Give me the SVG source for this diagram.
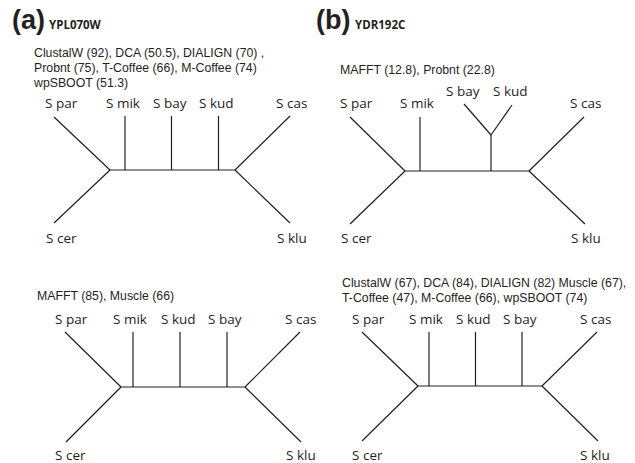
<svg xmlns="http://www.w3.org/2000/svg" width="635" height="463" viewBox="0 0 635 463">
<style>
text{font-family:"Open Sans","Noto Sans",sans-serif;fill:#231f20}
.lbl{font-size:13.5px}
.note{font-size:12.3px;font-family:"Liberation Sans",Arial,sans-serif}
.big{font-size:27px;font-weight:bold;font-family:"Liberation Sans",Arial,sans-serif}
.gene{font-size:11.5px;font-weight:bold}
.edges line{stroke:#231f20;stroke-width:1.2;fill:none}
</style>
<rect width="635" height="463" fill="#fff"/>
<g id="title-a"><text class="big" x="12" y="29">(a)</text><text class="gene" x="49" y="29">YPL070W</text></g>
<g id="title-b"><text class="big" x="316" y="29">(b)</text><text class="gene" x="355" y="29">YDR192C</text></g>

<g id="note-a1">
<text class="note" x="34" y="57">ClustalW (92), DCA (50.5), DIALIGN (70) ,</text>
<text class="note" x="34" y="72">Probnt (75), T-Coffee (66), M-Coffee (74)</text>
<text class="note" x="34" y="86.5">wpSBOOT (51.3)</text>
</g>
<g id="note-b1"><text class="note" x="340" y="74">MAFFT (12.8), Probnt (22.8)</text></g>
<g id="note-a2"><text class="note" x="37" y="300">MAFFT (85), Muscle (66)</text></g>
<g id="note-b2">
<text class="note" x="342" y="287">ClustalW (67), DCA (84), DIALIGN (82) Muscle (67),</text>
<text class="note" x="342" y="301.5">T-Coffee (47), M-Coffee (66), wpSBOOT (74)</text>
</g>

<g id="tree-a1-labels">
<g id="a1-spar"><text class="lbl" x="45" y="108">S par</text></g>
<g id="a1-smik"><text class="lbl" x="106" y="108">S mik</text></g>
<g id="a1-sbay"><text class="lbl" x="153" y="108">S bay</text></g>
<g id="a1-skud"><text class="lbl" x="199" y="108">S kud</text></g>
<g id="a1-scas"><text class="lbl" x="276" y="108">S cas</text></g>
<g id="a1-scer"><text class="lbl" x="46" y="243">S cer</text></g>
<g id="a1-sklu"><text class="lbl" x="277" y="243">S klu</text></g>
</g>
<g id="tree-b1-labels">
<g id="b1-spar"><text class="lbl" x="340" y="108">S par</text></g>
<g id="b1-smik"><text class="lbl" x="400" y="108">S mik</text></g>
<g id="b1-sbay"><text class="lbl" x="446" y="96">S bay</text></g>
<g id="b1-skud"><text class="lbl" x="493" y="96">S kud</text></g>
<g id="b1-scas"><text class="lbl" x="570" y="108">S cas</text></g>
<g id="b1-scer"><text class="lbl" x="341" y="243">S cer</text></g>
<g id="b1-sklu"><text class="lbl" x="571" y="243">S klu</text></g>
</g>
<g id="tree-a2-labels">
<g id="a2-spar"><text class="lbl" x="55" y="324">S par</text></g>
<g id="a2-smik"><text class="lbl" x="113" y="324">S mik</text></g>
<g id="a2-skud"><text class="lbl" x="161" y="324">S kud</text></g>
<g id="a2-sbay"><text class="lbl" x="208" y="324">S bay</text></g>
<g id="a2-scas"><text class="lbl" x="285" y="324">S cas</text></g>
<g id="a2-scer"><text class="lbl" x="55" y="460">S cer</text></g>
<g id="a2-sklu"><text class="lbl" x="286" y="460">S klu</text></g>
</g>
<g id="tree-b2-labels">
<g id="b2-spar"><text class="lbl" x="352" y="324">S par</text></g>
<g id="b2-smik"><text class="lbl" x="409" y="324">S mik</text></g>
<g id="b2-skud"><text class="lbl" x="456" y="324">S kud</text></g>
<g id="b2-sbay"><text class="lbl" x="503" y="324">S bay</text></g>
<g id="b2-scas"><text class="lbl" x="580" y="324">S cas</text></g>
<g id="b2-scer"><text class="lbl" x="352" y="460">S cer</text></g>
<g id="b2-sklu"><text class="lbl" x="580" y="460">S klu</text></g>
</g>

<g id="connectors" class="edges">
<!-- tree a1 -->
<line x1="54" y1="117" x2="110" y2="170"/>
<line x1="54" y1="223" x2="110" y2="170"/>
<line x1="110" y1="170" x2="235" y2="170"/>
<line x1="125" y1="116" x2="125" y2="170"/>
<line x1="171.5" y1="116" x2="171.5" y2="170"/>
<line x1="218.5" y1="116" x2="218.5" y2="170"/>
<line x1="290" y1="116" x2="235" y2="170"/>
<line x1="290" y1="223" x2="235" y2="170"/>
<!-- tree b1 -->
<line x1="350" y1="117" x2="405" y2="171"/>
<line x1="350" y1="224" x2="405" y2="171"/>
<line x1="405" y1="171" x2="529" y2="171"/>
<line x1="420" y1="117" x2="420" y2="171"/>
<line x1="491" y1="135" x2="491" y2="171"/>
<line x1="491" y1="135" x2="464" y2="104"/>
<line x1="491" y1="135" x2="512" y2="105"/>
<line x1="584" y1="117" x2="529" y2="171"/>
<line x1="585" y1="224" x2="529" y2="171"/>
<!-- tree a2 -->
<line x1="65" y1="332" x2="121" y2="387"/>
<line x1="66" y1="442" x2="121" y2="387"/>
<line x1="121" y1="387" x2="245" y2="387"/>
<line x1="133" y1="332" x2="133" y2="387"/>
<line x1="180" y1="332" x2="180" y2="387"/>
<line x1="227" y1="332" x2="227" y2="387"/>
<line x1="300" y1="332" x2="245" y2="387"/>
<line x1="301" y1="442" x2="245" y2="387"/>
<!-- tree b2 -->
<line x1="362" y1="332" x2="418" y2="386"/>
<line x1="362" y1="441" x2="418" y2="386"/>
<line x1="418" y1="386" x2="542" y2="386"/>
<line x1="429" y1="332" x2="429" y2="386"/>
<line x1="475.5" y1="332" x2="475.5" y2="386"/>
<line x1="522" y1="332" x2="522" y2="386"/>
<line x1="597" y1="332" x2="542" y2="386"/>
<line x1="598" y1="441" x2="542" y2="386"/>
</g>
</svg>
